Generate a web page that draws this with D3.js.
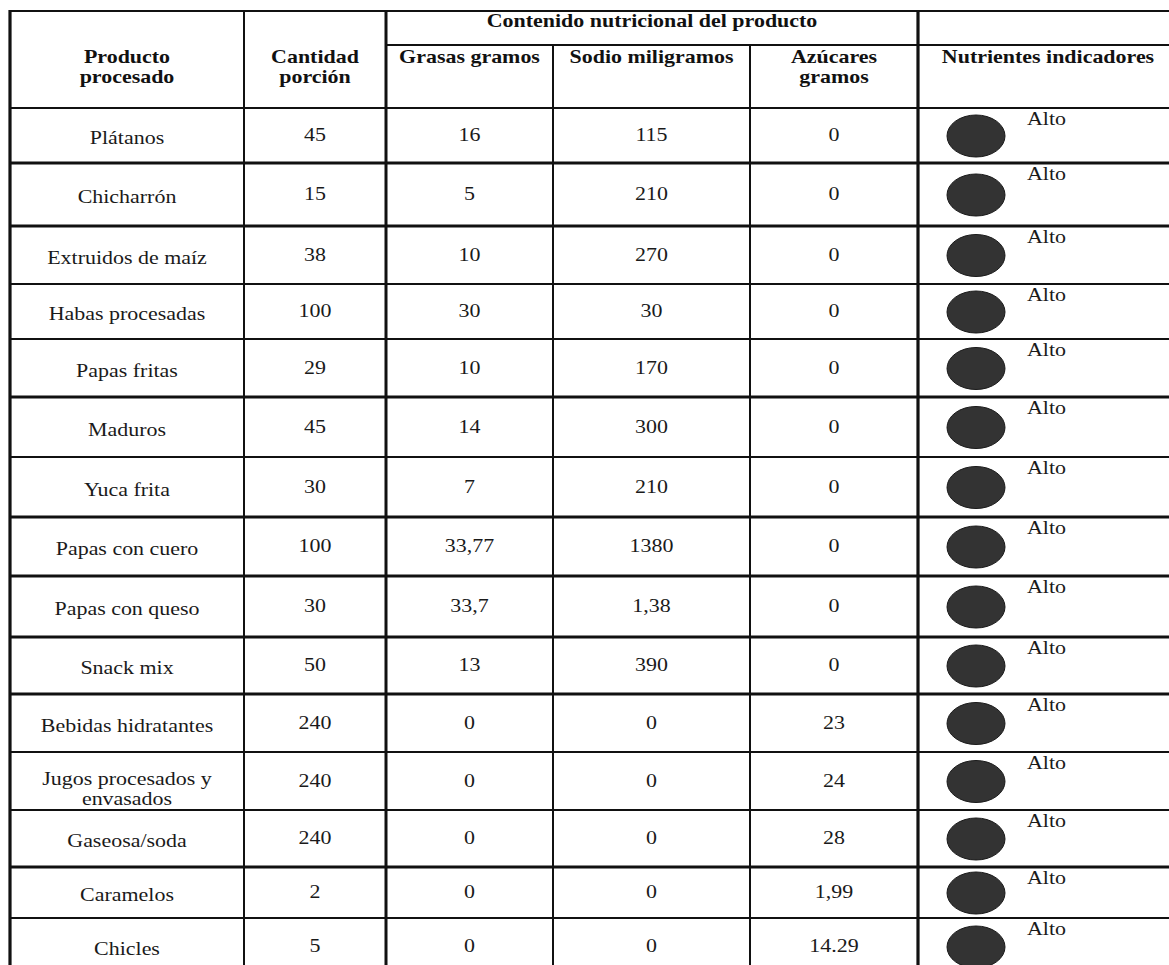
<!DOCTYPE html>
<html>
<head>
<meta charset="utf-8">
<script src="https://cdn.jsdelivr.net/npm/d3@7/dist/d3.min.js"></script>
<style>
  html, body { margin: 0; padding: 0; background: #fff; }
  svg { display: block; }
  text { font-family: "Liberation Serif", "Times New Roman", serif; }
</style>
</head>
<body>
<svg id="chart" width="1169" height="965"></svg>
<script>
// ---------------- DATA ----------------
const products = ["Plátanos", "Chicharrón", "Extruidos de maíz", "Habas procesadas", "Papas fritas",
  "Maduros", "Yuca frita", "Papas con cuero", "Papas con queso", "Snack mix",
  "Bebidas hidratantes", "Jugos procesados y\nenvasados", "Gaseosa/soda", "Caramelos", "Chicles"];
const cantidad = ["45", "15", "38", "100", "29", "45", "30", "100", "30", "50", "240", "240", "240", "2", "5"];
const grasas   = ["16", "5", "10", "30", "10", "14", "7", "33,77", "33,7", "13", "0", "0", "0", "0", "0"];
const sodio    = ["115", "210", "270", "30", "170", "300", "210", "1380", "1,38", "390", "0", "0", "0", "0", "0"];
const azucares = ["0", "0", "0", "0", "0", "0", "0", "0", "0", "0", "23", "24", "28", "1,99", "14.29"];
const indicador = ["Alto", "Alto", "Alto", "Alto", "Alto", "Alto", "Alto", "Alto", "Alto", "Alto",
  "Alto", "Alto", "Alto", "Alto", "Alto"];

const groupHeader = "Contenido nutricional del producto";
const colHeaders = ["Producto\nprocesado", "Cantidad\nporción", "Grasas gramos", "Sodio miligramos",
  "Azúcares\ngramos", "Nutrientes indicadores"];

// ---------------- LAYOUT / STYLE ----------------
const colEdges = [10, 244, 386, 553, 750, 918, 1178];
const rowEdges = [108, 163, 226, 284, 339, 397, 457, 517, 576, 637, 694, 752, 810, 867, 918, 975];
const thickRule = [true, true, false, false, true, false, true, true, true, true, false, false, true, false, true];
const TOP = 11, SUB = 45;
const SX = 1.22;       // horizontal stretch of the scanned text
const FS = 18;

const svg = d3.select("#chart");
const x = d3.scaleLinear().domain(d3.range(colEdges.length)).range(colEdges);
const y = d3.scaleLinear().domain(d3.range(rowEdges.length)).range(rowEdges);
const xc = i => (x(i) + x(i + 1)) / 2;
const yc = i => (y(i) + y(i + 1)) / 2;

function label(g, txt, cx, by, opts = {}) {
  const t = g.append("text")
    .attr("transform", `translate(${cx},${by}) scale(${SX},1)`)
    .attr("text-anchor", opts.anchor || "middle")
    .attr("font-size", FS)
    .attr("font-weight", opts.bold ? "bold" : "normal")
    .attr("fill", opts.fill || "#1a1a1a")
    .text(txt);
  return t;
}

const rows = products.map((p, i) => ({
  i, name: p, values: [cantidad[i], grasas[i], sodio[i], azucares[i]], ind: indicador[i]
}));

// ---------------- GRID ----------------
const grid = svg.append("g").attr("stroke", "#111").attr("fill", "none");
const W = 1169;
// top border
grid.append("line").attr("x1", x(0)).attr("x2", W).attr("y1", TOP).attr("y2", TOP).attr("stroke-width", 2);
// group sub-rule
grid.append("line").attr("x1", x(2)).attr("x2", W).attr("y1", SUB).attr("y2", SUB).attr("stroke-width", 1.8);
// header bottom
grid.append("line").attr("x1", x(0)).attr("x2", W).attr("y1", y(0)).attr("y2", y(0)).attr("stroke-width", 2);
// row rules
grid.selectAll("line.row").data(rows).join("line").attr("class", "row")
  .attr("x1", x(0)).attr("x2", W)
  .attr("y1", d => y(d.i + 1)).attr("y2", d => y(d.i + 1))
  .attr("stroke-width", d => thickRule[d.i] ? 3 : 2);
// vertical rules
const vlines = [
  { c: 0, y1: TOP, w: 3.2 }, { c: 1, y1: TOP, w: 2 }, { c: 2, y1: TOP, w: 3 },
  { c: 3, y1: SUB, w: 2 }, { c: 4, y1: SUB, w: 2 }, { c: 5, y1: TOP, w: 3.2 }
];
grid.selectAll("line.col").data(vlines).join("line").attr("class", "col")
  .attr("x1", d => x(d.c)).attr("x2", d => x(d.c))
  .attr("y1", d => d.y1 - (d.c === 0 ? 1 : 0)).attr("y2", 965)
  .attr("stroke-width", d => d.w);

// ---------------- HEADERS ----------------
const hg = svg.append("g");
label(hg, groupHeader, (x(2) + x(5)) / 2, 27, { bold: true, fill: "#111" });
colHeaders.forEach((h, c) => {
  const cx = c === 5 ? 1048 : xc(c);
  h.split("\n").forEach((ln, k) => label(hg, ln, cx, 63 + k * 20, { bold: true, fill: "#111" }));
});

// ---------------- BODY ----------------
const body = svg.append("g");
rows.forEach(r => {
  const lines = r.name.split("\n");
  if (lines.length === 1) {
    label(body, lines[0], xc(0), yc(r.i) + 8.5);
  } else {
    lines.forEach((ln, k) => label(body, ln, xc(0), yc(r.i) + 4 + k * 20));
  }
  r.values.forEach((v, k) => label(body, v, xc(k + 1), yc(r.i) + 5.5));
  body.append("ellipse")
    .attr("cx", x(5) + 58).attr("cy", yc(r.i) + 0.5)
    .attr("rx", 29).attr("ry", 21)
    .attr("fill", "#333").attr("stroke", "#1a1a1a").attr("stroke-width", 1);
  label(body, r.ind, x(5) + 109, y(r.i) + 17, { anchor: "start" });
});
</script>
</body>
</html>
